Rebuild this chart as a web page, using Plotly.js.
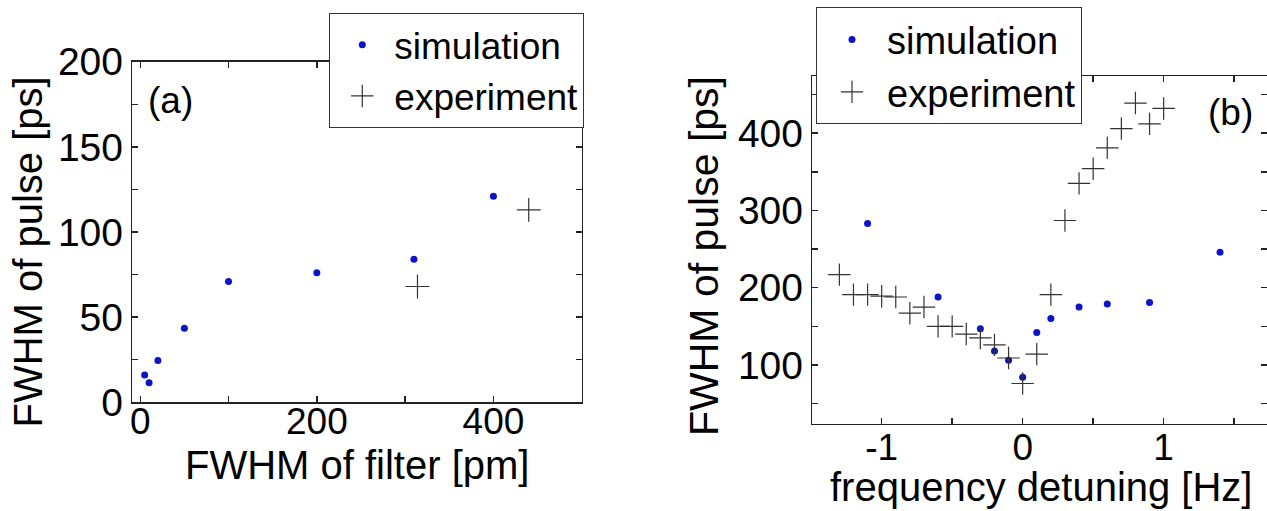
<!DOCTYPE html>
<html>
<head>
<meta charset="utf-8">
<script src="https://cdn.plot.ly/plotly-3.0.1.min.js"></script>
<style>html,body{margin:0;padding:0;background:#fff;overflow:hidden}#plot{width:1267px;height:511px}</style>
</head>
<body>
<div id="plot"></div>
<script>
// Panel (a): FWHM of filter [pm] vs FWHM of pulse [ps]
const simA_x = [5, 10, 20, 50, 100, 200, 310, 400];
const simA_y = [16, 11.5, 24.5, 43.5, 71, 76, 84, 121];
const expA_x = [314, 440];
const expA_y = [68, 113];

// Panel (b): frequency detuning [Hz] vs FWHM of pulse [ps]
const simB_x = [-1.1, -0.6, -0.3, -0.2, -0.1, 0, 0.1, 0.2, 0.4, 0.6, 0.9, 1.4];
const simB_y = [283, 188, 147, 118, 106, 84, 142, 160, 175, 179, 181, 246];
const expB_x = [-1.3, -1.2, -1.1, -1.0, -0.9, -0.8, -0.7, -0.6, -0.5, -0.4, -0.3, -0.2, -0.1, 0, 0.1, 0.2, 0.3, 0.4, 0.5, 0.6, 0.7, 0.8, 0.9, 1.0];
const expB_y = [217, 191, 191, 189, 188, 167, 175, 150, 150, 140, 135, 126, 109, 76, 114, 191, 287, 335, 354, 381, 406, 439, 412, 432];

// Tick values / labels
const tickA_x = [0, 100, 200, 300, 400];
const labA_x = ['0', '', '200', '', '400'];
const tickA_y = [0, 25, 50, 75, 100, 125, 150, 175, 200];
const labA_y = ['0', '', '50', '', '100', '', '150', '', '200'];
const tickB_x = [-1.5, -1, -0.5, 0, 0.5, 1, 1.5];
const labB_x = ['', '-1', '', '0', '', '1', ''];
const tickB_y = [50, 100, 150, 200, 250, 300, 350, 400, 450];
const labB_y = ['', '100', '', '200', '', '300', '', '400', ''];

const W = 1267, H = 511;
const FONT = 'Arial, "Liberation Sans", Helvetica, sans-serif';
const simColor = '#0a14c8';
const expColor = '#333333';

const px = v => v / W;
const py = v => 1 - v / H;

const traces = [
  {x: simA_x, y: simA_y, type: 'scatter', mode: 'markers', name: 'simulation', xaxis: 'x', yaxis: 'y',
   marker: {color: simColor, size: 7, symbol: 'circle'}, legend: 'legend'},
  {x: expA_x, y: expA_y, type: 'scatter', mode: 'markers', name: 'experiment', xaxis: 'x', yaxis: 'y',
   marker: {color: expColor, size: 17, symbol: 'cross-thin', line: {color: expColor, width: 1.2}}, legend: 'legend'},
  {x: simB_x, y: simB_y, type: 'scatter', mode: 'markers', name: 'simulation', xaxis: 'x2', yaxis: 'y2',
   marker: {color: simColor, size: 7, symbol: 'circle'}, legend: 'legend2'},
  {x: expB_x, y: expB_y, type: 'scatter', mode: 'markers', name: 'experiment', xaxis: 'x2', yaxis: 'y2',
   marker: {color: expColor, size: 16, symbol: 'cross-thin', line: {color: expColor, width: 1.2}}, legend: 'legend2'}
];

const axisBase = {
  showline: true, linecolor: '#222', linewidth: 1.5, mirror: 'ticks',
  ticks: 'inside', ticklen: 6, tickwidth: 1.5, tickcolor: '#222',
  showgrid: false, zeroline: false, tickmode: 'array',
  tickfont: {family: FONT, size: 39, color: '#000'}
};

const layout = {
  width: W, height: H,
  margin: {l: 0, r: 0, t: 0, b: 0},
  paper_bgcolor: '#fff', plot_bgcolor: '#fff',
  showlegend: true,
  xaxis: Object.assign({}, axisBase, {domain: [px(132.3), px(581.7)], range: [-9, 500], anchor: 'y',
    tickvals: tickA_x, ticktext: labA_x, ticklabelstandoff: -14,
    tickfont: {family: FONT, size: 37, color: '#000'}}),
  yaxis: Object.assign({}, axisBase, {domain: [py(402.3), py(61.7)], range: [0, 200], anchor: 'x',
    tickvals: tickA_y, ticktext: labA_y}),
  xaxis2: Object.assign({}, axisBase, {domain: [px(812.3), 1], range: [-1.492, 1.733], anchor: 'y2',
    tickvals: tickB_x, ticktext: labB_x, ticklabelstandoff: -10,
    tickfont: {family: FONT, size: 37, color: '#000'}}),
  yaxis2: Object.assign({}, axisBase, {domain: [py(423.7), py(76)], range: [24, 474], anchor: 'x2',
    tickvals: tickB_y, ticktext: labB_y}),
  legend: {x: px(329.3), y: py(13.3), xanchor: 'left', yanchor: 'top', bgcolor: '#fff',
    bordercolor: '#333', borderwidth: 1, itemwidth: 54, font: {family: FONT, size: 37, color: '#000'},
    tracegroupgap: 0},
  legend2: {x: px(816), y: py(7.3), xanchor: 'left', yanchor: 'top', bgcolor: '#fff',
    bordercolor: '#333', borderwidth: 1, itemwidth: 60, font: {family: FONT, size: 38, color: '#000'},
    tracegroupgap: 0},
  annotations: [
    {text: 'FWHM of pulse [ps]', xref: 'paper', yref: 'paper', x: px(27.5), y: py(252), textangle: -90,
     showarrow: false, xanchor: 'center', yanchor: 'middle', font: {family: FONT, size: 40, color: '#000'}},
    {text: 'FWHM of filter [pm]', xref: 'paper', yref: 'paper', x: px(357), y: py(465),
     showarrow: false, xanchor: 'center', yanchor: 'middle', font: {family: FONT, size: 40, color: '#000'}},
    {text: 'FWHM of pulse [ps]', xref: 'paper', yref: 'paper', x: px(704), y: py(256), textangle: -90,
     showarrow: false, xanchor: 'center', yanchor: 'middle', font: {family: FONT, size: 41, color: '#000'}},
    {text: 'frequency detuning [Hz]', xref: 'paper', yref: 'paper', x: px(1040.7), y: py(487),
     showarrow: false, xanchor: 'center', yanchor: 'middle', font: {family: FONT, size: 40, color: '#000'}},
    {text: '(a)', xref: 'paper', yref: 'paper', x: px(170), y: py(100),
     showarrow: false, xanchor: 'center', yanchor: 'middle', font: {family: FONT, size: 37, color: '#000'}},
    {text: '(b)', xref: 'paper', yref: 'paper', x: px(1230), y: py(112),
     showarrow: false, xanchor: 'center', yanchor: 'middle', font: {family: FONT, size: 37, color: '#000'}}
  ]
};

Plotly.newPlot('plot', traces, layout, {staticPlot: true, displayModeBar: false});
</script>
</body>
</html>
